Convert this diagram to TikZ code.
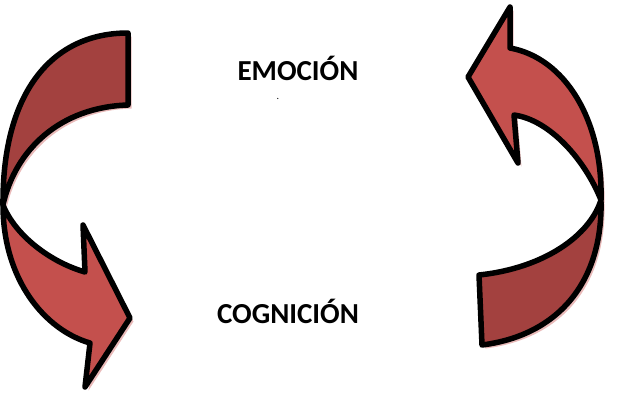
\documentclass[tikz,border=0pt]{standalone}
\usepackage{fontspec}
\setmainfont{Carlito}
\usepackage{xcolor}
\usetikzlibrary{positioning,shadows}
\definecolor{bandback}{HTML}{A3413F}
\definecolor{bandfront}{HTML}{C4504D}
\definecolor{bandshadow}{HTML}{E3A9A8}
\tikzset{%
	band/.style      = {draw=black, line width=5.5pt, line join=round,
	                    drop shadow={shadow xshift=3.5pt, shadow yshift=-3.5pt, fill=bandshadow, opacity=.8}},
	backband/.style  = {band, fill=bandback},  % rear half of the ribbon
	frontband/.style = {band, fill=bandfront}, % front half with the head
	word/.style      = {font=\fontsize{29}{32}\selectfont\bfseries, inner sep=0pt, anchor=base},
}
\begin{document}
\begin{tikzpicture}[x=1pt,y=-1pt]
	\useasboundingbox (0,0) rectangle (640,413);

	% left ribbon, going down
	\draw[backband] (128,33) .. controls (50,33) and (2,95) .. (3,205)
		.. controls (15,150) and (60,107) .. (128,105) -- cycle;
	\draw[frontband] (3,205) .. controls (3,280) and (45,330) .. (90,343)
		-- (85,387) -- (130,318) -- (83,225) -- (85,272)
		.. controls (50,262) and (15,235) .. (3,205) -- cycle;

	% right ribbon, going up
	\draw[backband] (482,345) .. controls (560,335) and (603,280) .. (601,200)
		.. controls (590,235) and (545,268) .. (479,275) -- cycle;
	\draw[frontband] (601,200) .. controls (603,120) and (565,58) .. (510,48)
		-- (510,7) -- (468,77) -- (518,163) -- (514,115)
		.. controls (550,120) and (585,160) .. (601,200) -- cycle;

	\node[word] (emo) at (298,80) {EMOCIÓN};
	\node[word] (cog) at (288,323) {COGNICIÓN};
	\node[font=\fontsize{10}{12}\selectfont, inner sep=0pt, anchor=base] (dot) at (278,99) {.};
\end{tikzpicture}
\end{document}
